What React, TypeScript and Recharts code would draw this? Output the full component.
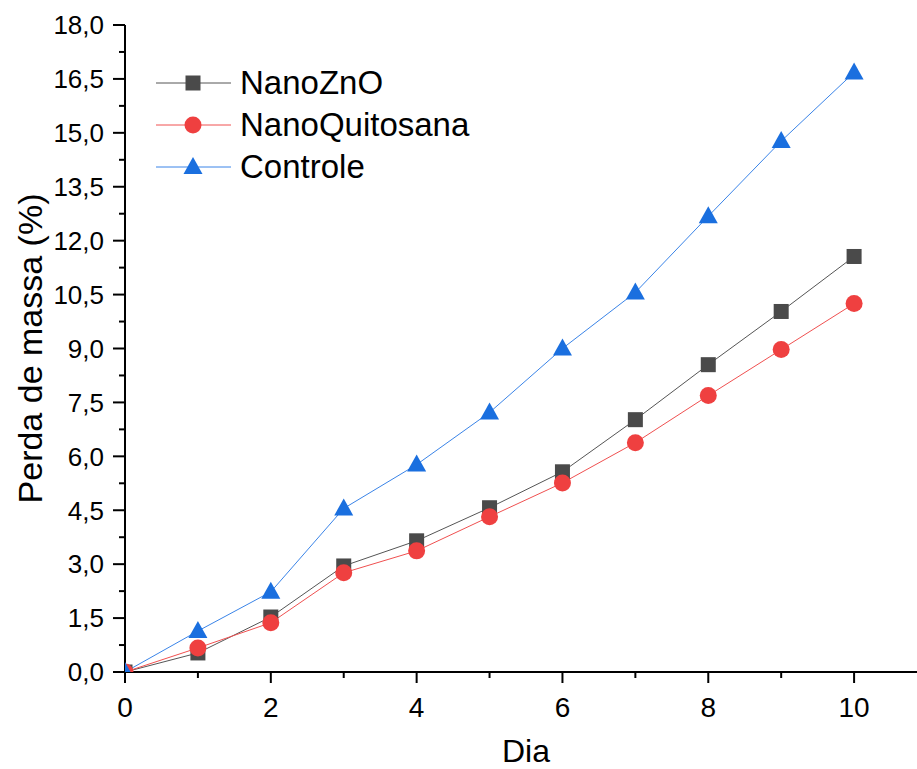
import React from 'react';
import { LineChart, Line, XAxis, YAxis, Legend } from 'recharts';

const days = [0, 1, 2, 3, 4, 5, 6, 7, 8, 9, 10];
const nanoZnO = [0, 0.53, 1.53, 2.95, 3.65, 4.57, 5.57, 7.02, 8.55, 10.03, 11.56];
const nanoQuitosana = [0, 0.67, 1.37, 2.76, 3.37, 4.32, 5.26, 6.38, 7.69, 8.97, 10.25];
const controle = [0, 1.14, 2.23, 4.55, 5.77, 7.22, 9.0, 10.56, 12.68, 14.77, 16.68];

const seriesNames = ['NanoZnO', 'NanoQuitosana', 'Controle'];
const seriesKeys = ['zno', 'quit', 'ctrl'];
const lineColors = ['#555555', '#f05050', '#3a84e8'];
const markerColors = ['#4a4a4a', '#ef4040', '#1a6fdf'];
const markerShapes = ['square', 'circle', 'triangle'];

const xTicks = [0, 1, 2, 3, 4, 5, 6, 7, 8, 9, 10, 11];
const xMajorTicks = [0, 2, 4, 6, 8, 10];
const topTicks = [0, 1, 2, 3, 4, 5, 6, 7, 8, 9, 10];
const topMajorTicks = [0, 2, 4, 6, 8, 10];
const yTicks = [0, 0.75, 1.5, 2.25, 3, 3.75, 4.5, 5.25, 6, 6.75, 7.5, 8.25, 9, 9.75, 10.5, 11.25, 12, 12.75, 13.5, 14.25, 15, 15.75, 16.5, 17.25, 18];
const yMajorTicks = [0, 1.5, 3, 4.5, 6, 7.5, 9, 10.5, 12, 13.5, 15, 16.5, 18];

const data = days.map((d, i) => ({
  day: d,
  zno: nanoZnO[i],
  quit: nanoQuitosana[i],
  ctrl: controle[i],
}));

const FONT = '"Liberation Sans", Arial, sans-serif';

function Marker({ shape, cx, cy, color }: { shape: string; cx: number; cy: number; color: string }) {
  if (shape === 'square') {
    return <rect x={cx - 7.5} y={cy - 7.5} width={15} height={15} fill={color} />;
  }
  if (shape === 'circle') {
    return <circle cx={cx} cy={cy} r={8.5} fill={color} />;
  }
  return <polygon points={`${cx},${cy - 10} ${cx + 9.5},${cy + 7} ${cx - 9.5},${cy + 7}`} fill={color} />;
}

const makeDot = (idx: number) => (props: any) => {
  const { cx, cy, index } = props;
  if (cx == null || cy == null) return <g key={`d-${idx}-${index}`} />;
  return (
    <g key={`d-${idx}-${index}`}>
      <Marker shape={markerShapes[idx]} cx={cx} cy={cy} color={markerColors[idx]} />
    </g>
  );
};

const XTick = (props: any) => {
  const { x, y, payload } = props;
  const v = payload.value;
  const major = xMajorTicks.includes(v);
  return (
    <g>
      <line x1={x} x2={x} y1={y} y2={y + (major ? 11 : 6)} stroke="#000" strokeWidth={2} />
      {major && (
        <text x={x} y={y + 45} textAnchor="middle" fontSize={28} fill="#000" fontFamily={FONT}>
          {v}
        </text>
      )}
    </g>
  );
};

const TopTick = (props: any) => {
  const { x, y, payload } = props;
  const v = payload.value;
  const major = topMajorTicks.includes(v);
  return <line x1={x} x2={x} y1={y} y2={y + (major ? 11 : 6)} stroke="#000" strokeWidth={2} />;
};

const YTick = (props: any) => {
  const { x, y, payload } = props;
  const v = payload.value;
  const major = yMajorTicks.includes(v);
  return (
    <g>
      <line x1={x - (major ? 12 : 6)} x2={x} y1={y} y2={y} stroke="#000" strokeWidth={2} />
      {major && (
        <text x={x - 21} y={y + 9.3} textAnchor="end" fontSize={26} fill="#000" fontFamily={FONT}>
          {v.toFixed(1).replace('.', ',')}
        </text>
      )}
    </g>
  );
};

const LegendContent = () => (
  <div style={{ fontFamily: FONT }}>
    {seriesNames.map((name, i) => (
      <div key={name} style={{ display: 'flex', alignItems: 'center', height: 42 }}>
        <svg width={75} height={42} style={{ display: 'block' }}>
          <line x1={0} x2={75} y1={21} y2={21} stroke={lineColors[i]} strokeWidth={1} />
          <Marker shape={markerShapes[i]} cx={37} cy={21} color={markerColors[i]} />
        </svg>
        <span style={{ marginLeft: 9, fontSize: 33, color: '#000', lineHeight: '42px' }}>{name}</span>
      </div>
    ))}
  </div>
);

export default function App() {
  return (
    <div
      style={{
        position: 'absolute',
        left: 0,
        top: 0,
        width: 917,
        height: 769,
        overflow: 'hidden',
        background: '#fff',
        fontFamily: FONT,
      }}
    >
      <LineChart width={1000} height={769} data={data} margin={{ top: 25, right: 73, bottom: 0, left: 0 }}>
        <XAxis
          xAxisId="bottom"
          dataKey="day"
          type="number"
          domain={[0, 11]}
          ticks={xTicks}
          interval={0}
          tickSize={0}
          tickMargin={0}
          tickLine={false}
          tick={<XTick />}
          axisLine={{ stroke: '#000', strokeWidth: 2 }}
          height={97}
          allowDataOverflow
          label={{ value: 'Dia', position: 'insideBottom', offset: 7, fontSize: 32, fill: '#000', fontFamily: FONT }}
        />
        <XAxis
          xAxisId="top"
          orientation="top"
          dataKey="day"
          type="number"
          domain={[0, 10]}
          ticks={topTicks}
          interval={0}
          tickSize={0}
          tickMargin={0}
          tickLine={false}
          tick={<TopTick />}
          axisLine={{ stroke: '#000', strokeWidth: 2 }}
          height={0}
          allowDataOverflow
        />
        <YAxis
          type="number"
          domain={[0, 18]}
          ticks={yTicks}
          interval={0}
          tickSize={0}
          tickMargin={0}
          tickLine={false}
          tick={<YTick />}
          axisLine={{ stroke: '#000', strokeWidth: 2 }}
          width={125}
          allowDataOverflow
          label={{
            value: 'Perda de massa (%)',
            angle: -90,
            position: 'insideLeft',
            offset: 30,
            textAnchor: 'middle',
            fontSize: 34,
            fill: '#000',
            fontFamily: FONT,
          }}
        />
        <Legend
          layout="vertical"
          align="center"
          verticalAlign="middle"
          content={<LegendContent />}
          wrapperStyle={{ top: 62, left: 156, width: 420, height: 130, right: 'auto', bottom: 'auto' }}
        />
        {seriesKeys.map((k, i) => (
          <Line
            key={k}
            xAxisId="bottom"
            type="linear"
            dataKey={k}
            name={seriesNames[i]}
            stroke={lineColors[i]}
            strokeWidth={1}
            dot={makeDot(i)}
            activeDot={false}
            isAnimationActive={false}
          />
        ))}
      </LineChart>
    </div>
  );
}
